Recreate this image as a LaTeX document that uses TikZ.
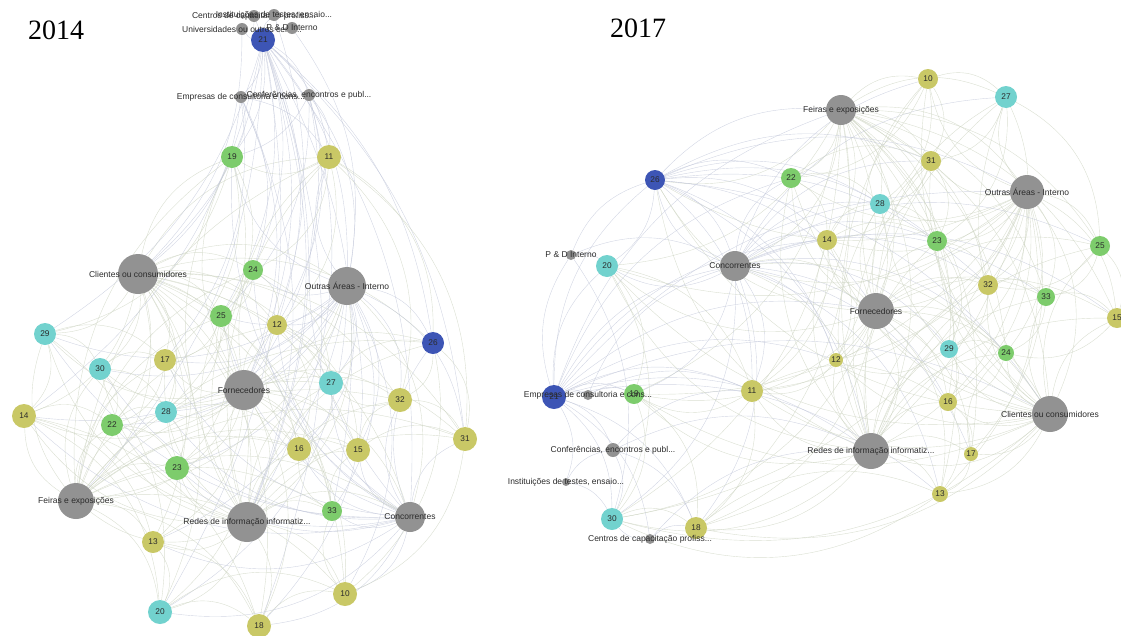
\documentclass[tikz,border=0pt]{standalone}
\usepackage{fontspec}
\setmainfont{Liberation Serif}
\setsansfont{Liberation Sans}
\usetikzlibrary{backgrounds}
\definecolor{gyc}{HTML}{929292}
\definecolor{blc}{HTML}{3D55B5}
\definecolor{cyc}{HTML}{72D2CE}
\definecolor{ylc}{HTML}{C9C866}
\definecolor{grc}{HTML}{7DCC6C}
\definecolor{eblue}{HTML}{C3C8DA}
\definecolor{egreen}{HTML}{CDD4C2}
\definecolor{txt}{HTML}{2B2B2B}
\begin{document}
\begin{tikzpicture}[x=1pt,y=-1pt,
  nd/.style={circle,inner sep=0pt,font=\sffamily\fontsize{8.3}{9}\selectfont,text=txt},
  gy/.style={nd,fill=gyc,minimum size=#1},
  bl/.style={nd,fill=blc,minimum size=#1},
  cy/.style={nd,fill=cyc,minimum size=#1},
  yl/.style={nd,fill=ylc,minimum size=#1},
  gr/.style={nd,fill=grc,minimum size=#1},
  glab/.style={label={[font=\sffamily\fontsize{8.5}{9}\selectfont,text=txt,inner sep=0pt]center:{#1}}},
  edge/.style={line width=0.4pt,opacity=0.75},
  year/.style={font=\fontsize{28}{30}\selectfont,inner sep=0pt}
]
\useasboundingbox (0,0) rectangle (1121,635);

\node[year] (y14) at (56,30) {2014};
\node[year] (y17) at (638,28) {2017};

% ---------------- 2014 ----------------
\node[bl=24] (a21) at (263,40) {21};
\node[gy=12,glab={Universidades ou outros centr...}] (aUni) at (242,29) {};
\node[gy=12,glab={P \& D Interno}] (aPD) at (292,28) {};
\node[gy=12,glab={Centros de capacitação profiss...}] (aIC) at (254,16) {};
\node[gy=12,glab={Instituições de testes, ensaio...}] (aIT) at (274,15) {};
\node[gy=12,glab={Empresas de consultoria e cons...}] (aEmp) at (241,97) {};
\node[gy=12,glab={Conferências, encontros e publ...}] (aConf) at (309,95) {};
\node[gy=40,glab={Clientes ou consumidores}] (aCli) at (138,274) {};
\node[gy=38,glab={Outras Áreas - Interno}] (aOut) at (347,286) {};
\node[gy=40,glab={Fornecedores}] (aFor) at (244,390) {};
\node[gy=40,glab={Redes de informação informatiz...}] (aRed) at (247,522) {};
\node[gy=36,glab={Feiras e exposições}] (aFei) at (76,501) {};
\node[gy=30,glab={Concorrentes}] (aCon) at (410,517) {};
\node[yl=24] (a10) at (345,594) {10};
\node[yl=24] (a11) at (329,157) {11};
\node[yl=20] (a12) at (277,325) {12};
\node[yl=22] (a13) at (153,542) {13};
\node[yl=24] (a14) at (24,416) {14};
\node[yl=24] (a15) at (358,450) {15};
\node[yl=24] (a16) at (299,449) {16};
\node[yl=22] (a17) at (165,360) {17};
\node[yl=24] (a18) at (259,626) {18};
\node[gr=22] (a19) at (232,157) {19};
\node[cy=24] (a20) at (160,612) {20};
\node[gr=22] (a22) at (112,425) {22};
\node[gr=24] (a23) at (177,468) {23};
\node[gr=20] (a24) at (253,270) {24};
\node[gr=22] (a25) at (221,316) {25};
\node[bl=22] (a26) at (433,343) {26};
\node[cy=24] (a27) at (331,383) {27};
\node[cy=22] (a28) at (166,412) {28};
\node[cy=22] (a29) at (45,334) {29};
\node[cy=22] (a30) at (100,369) {30};
\node[yl=24] (a31) at (465,439) {31};
\node[yl=24] (a32) at (400,400) {32};
\node[gr=20] (a33) at (332,511) {33};

% ---------------- 2017 ----------------
\node[bl=24] (b21) at (554,397) {21};
\node[gr=20] (b19) at (634,394) {19};
\node[yl=20] (b10) at (928,79) {10};
\node[yl=22] (b11) at (752,391) {11};
\node[yl=14] (b12) at (836,360) {12};
\node[yl=16] (b13) at (940,494) {13};
\node[yl=20] (b14) at (827,240) {14};
\node[yl=20] (b15) at (1117,318) {15};
\node[yl=18] (b16) at (948,402) {16};
\node[yl=14] (b17) at (971,454) {17};
\node[yl=22] (b18) at (696,528) {18};
\node[cy=22] (b20) at (607,266) {20};
\node[gr=20] (b22) at (791,178) {22};
\node[gr=20] (b23) at (937,241) {23};
\node[gr=16] (b24) at (1006,353) {24};
\node[gr=20] (b25) at (1100,246) {25};
\node[bl=20] (b26) at (655,180) {26};
\node[cy=22] (b27) at (1006,97) {27};
\node[cy=20] (b28) at (880,204) {28};
\node[cy=18] (b29) at (949,349) {29};
\node[cy=22] (b30) at (612,519) {30};
\node[yl=20] (b31) at (931,161) {31};
\node[yl=20] (b32) at (988,285) {32};
\node[gr=18] (b33) at (1046,297) {33};
\node[gy=30,glab={Feiras e exposições}] (bFei) at (841,110) {};
\node[gy=34,glab={Outras Áreas - Interno}] (bOut) at (1027,192) {};
\node[gy=30,glab={Concorrentes}] (bCon) at (735,266) {};
\node[gy=36,glab={Fornecedores}] (bFor) at (876,311) {};
\node[gy=36,glab={Clientes ou consumidores}] (bCli) at (1050,414) {};
\node[gy=36,glab={Redes de informação informatiz...}] (bRed) at (871,451) {};
\node[gy=10,glab={P \& D Interno}] (bPD) at (571,255) {};
\node[gy=10,glab={Empresas de consultoria e cons...}] (bEmp) at (588,395) {};
\node[gy=14,glab={Conferências, encontros e publ...}] (bConf) at (613,450) {};
\node[gy=8,glab={Instituições de testes, ensaio...}] (bIT) at (566,482) {};
\node[gy=10,glab={Centros de capacitação profiss...}] (bCen) at (650,539) {};

% ---------------- edges ----------------
\begin{scope}[on background layer]
% 2014 hubs to numbers
\foreach \h/\c in {aCli/egreen,aOut/eblue,aFor/egreen,aRed/egreen,aFei/egreen,aCon/eblue}
  \foreach \n in {10,...,20,22,23,...,33}
    \draw[edge,draw=\c] (\h) to[bend left=28] (a\n);
\foreach \a/\b in {aCli/aOut,aCli/aFor,aCli/aRed,aCli/aFei,aCli/aCon,aOut/aFor,aOut/aRed,aOut/aFei,aOut/aCon,aFor/aRed,aFor/aFei,aFor/aCon,aRed/aFei,aRed/aCon,aFei/aCon}
  \draw[edge,draw=egreen] (\a) to[bend left=30] (\b);
\foreach \t in {aCli,aOut,aFor,aRed,aFei,aCon,a19,a11,a26,a24,a12,a25,a14,a29,a33,a18,a31,a20,aEmp,aConf,aUni,aPD,aIT,aIC}
  \draw[edge,draw=eblue] (a21) to[bend left=20] (\t);
\foreach \t in {a19,a24,aCli,aFor,aRed,a11,a17}
  \draw[edge,draw=eblue] (aEmp) to[bend left=22] (\t);
\foreach \t in {a11,aOut,aFor,a25,aRed,a19,a12}
  \draw[edge,draw=eblue] (aConf) to[bend left=22] (\t);
\foreach \a/\b in {aUni/aCli,aPD/aOut,aIT/aFor,aIC/aRed}
  \draw[edge,draw=eblue] (\a) to[bend left=22] (\b);
\foreach \a/\b in {11/19,11/24,11/12,11/26,11/32,19/25,19/17,19/28,24/25,24/12,25/17,25/28,12/27,12/16,29/30,29/14,29/17,30/22,30/28,30/17,14/22,14/20,14/13,22/28,22/23,28/23,23/13,13/20,20/18,18/10,10/33,33/16,33/15,16/15,15/32,15/31,32/31,32/27,27/26,26/31,27/16,17/28,23/16,16/12,13/18,20/10,31/10,26/32,19/29,11/31,24/27,25/23,17/22,28/16,12/15,29/20,14/18,26/10}
  \draw[edge,draw=egreen] (a\a) to[bend left=30] (a\b);

% 2017 hubs to numbers
\foreach \h/\c in {bFei/egreen,bOut/egreen,bCon/eblue,bFor/egreen,bCli/egreen,bRed/egreen}
  \foreach \n in {10,...,20,22,23,...,33}
    \draw[edge,draw=\c] (\h) to[bend left=28] (b\n);
\foreach \a/\b in {bFei/bOut,bFei/bCon,bFei/bFor,bFei/bCli,bFei/bRed,bOut/bCon,bOut/bFor,bOut/bCli,bOut/bRed,bCon/bFor,bCon/bCli,bCon/bRed,bFor/bCli,bFor/bRed,bCli/bRed}
  \draw[edge,draw=egreen] (\a) to[bend left=30] (\b);
\foreach \t in {bFei,bCon,bFor,bRed,bCli,bOut,b20,b26,b19,b11,b30,b18,b12,b22,b14,b13,bPD,bEmp,bConf,bIT,bCen}
  \draw[edge,draw=eblue] (b21) to[bend left=25] (\t);
\foreach \t in {bFei,bCon,bFor,bRed,bCli,bOut,b20,b22,b14,b11,b28,b31,b23,b32,b12}
  \draw[edge,draw=eblue] (b26) to[bend left=25] (\t);
\foreach \a/\b in {bPD/b20,bPD/b26,bPD/bCon,bPD/b30,bEmp/b19,bEmp/bCon,bEmp/b11,bConf/b30,bConf/b11,bConf/bRed,bConf/b18,bIT/b30,bIT/bConf,bCen/b30,bCen/b18,bCen/bRed}
  \draw[edge,draw=eblue] (\a) to[bend left=25] (\b);
\foreach \a/\b in {10/27,10/31,10/22,10/28,27/31,27/25,27/23,31/28,31/23,31/14,22/28,22/14,20/11,20/19,14/28,14/23,14/12,23/32,23/29,28/23,25/33,25/15,25/32,32/33,32/29,33/24,33/15,29/24,29/16,29/12,24/16,16/17,16/13,17/13,12/11,11/19,11/18,19/30,30/18,18/13,15/24,20/30,22/31,11/16,13/30,27/32,28/12,19/18,14/11,17/24}
  \draw[edge,draw=egreen] (b\a) to[bend left=30] (b\b);
\end{scope}
\end{tikzpicture}
\end{document}
